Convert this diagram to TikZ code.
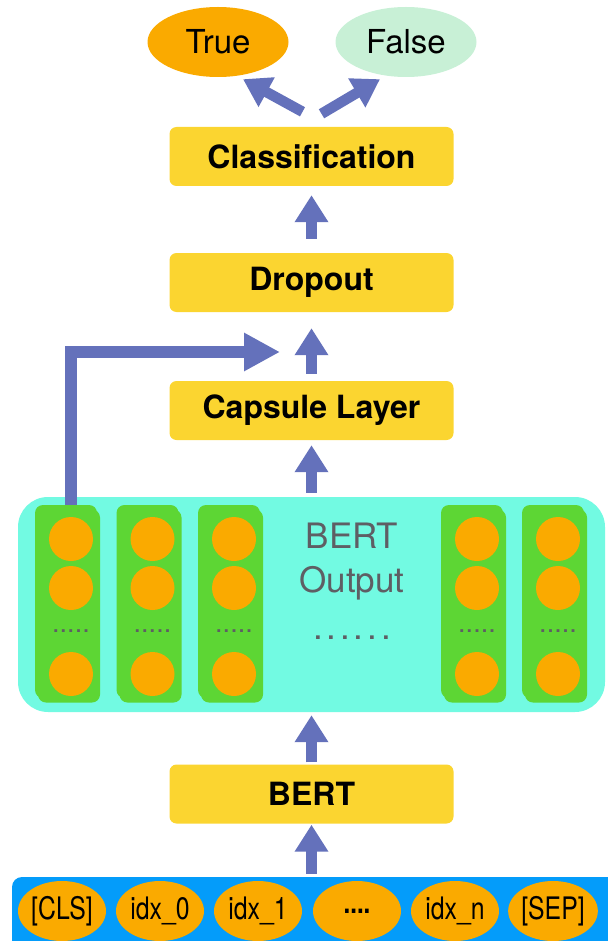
\documentclass[tikz,border=0pt]{standalone}
\usepackage{fontspec}
\setmainfont{TeX Gyre Heros}
\newfontfamily\narrowfont[FakeStretch=0.8]{TeX Gyre Heros}
\newfontfamily\spreadfont[LetterSpace=11]{TeX Gyre Heros}
\usetikzlibrary{arrows.meta,shapes.geometric}
\definecolor{layeryellow}{RGB}{251,213,48}
\definecolor{tokenorange}{RGB}{250,170,0}
\definecolor{falsegreen}{RGB}{200,240,214}
\definecolor{outcyan}{RGB}{114,250,226}
\definecolor{vecgreen}{RGB}{93,214,52}
\definecolor{inblue}{RGB}{4,156,250}
\definecolor{flowblue}{RGB}{100,113,187}
\definecolor{dotgray}{RGB}{94,94,100}

\begin{document}
\begin{tikzpicture}[x=1pt,y=-1pt,
		layer/.style={fill=layeryellow, rounded corners=7pt, minimum width=284pt, minimum height=59pt, inner sep=0pt, font=\fontsize{32}{36}\selectfont\bfseries},
		outcome/.style={ellipse, minimum width=141pt, minimum height=70pt, inner sep=0pt, font=\fontsize{33}{36}\selectfont},
		token/.style={ellipse, fill=tokenorange, minimum width=88pt, minimum height=60pt, inner sep=0pt, font=\fontsize{31}{32}\narrowfont},
		vector/.style={fill=vecgreen, rounded corners=8pt, minimum width=62pt, minimum height=193pt, inner sep=0pt},
		unit/.style={circle, fill=tokenorange, minimum size=44pt, inner sep=0pt},
		graytext/.style={text=dotgray, inner sep=0pt, anchor=base},
		flow/.style={draw=flowblue, line width=10.5pt, -{Triangle[width=32pt,length=27pt]}},
		skipflow/.style={draw=flowblue, line width=11.5pt, -{Triangle[width=36pt,length=36pt]}}]
		\useasboundingbox (0,0) rectangle (607,941);
		
		\node[outcome, fill=tokenorange] (true) at (218,42) {True};
		\node[outcome, fill=falsegreen] (false) at (406,42) {False};
		\node[layer] (class) at (311.5,156.5) {Classification};
		\node[layer] (dropout) at (311.5,282.5) {Dropout};
		\node[layer] (capsule) at (311.5,410.5) {Capsule Layer};
		\node[fill=outcyan, rounded corners=30pt, minimum width=587pt, minimum height=215pt, inner sep=0pt] (output) at (311.5,604.5) {};
		\node[layer] (bert) at (311.5,794) {BERT};
		\node[fill=inblue, rounded corners=10pt, minimum width=615pt, minimum height=80pt, inner sep=0pt] (inputs) at (319.5,917) {};
		
		\foreach \n/\x in {1/71,2/152.5,3/234,4/477,5/558} {
			\node[vector] at (\x-2,606) {};
			\node[vector] (col\n) at (\x-5,601.5) {};
			\node[unit] (u\n-1) at (\x,539) {};
			\node[unit] (u\n-2) at (\x,588) {};
			\node[graytext, font=\fontsize{27}{28}\selectfont] (dots\n) at (\x,632.5) {.....};
			\node[unit] (u\n-3) at (\x,674) {};
		}
		\node[graytext, font=\fontsize{35}{40}\selectfont] (title1) at (352,548) {BERT};
		\node[graytext, font=\fontsize{35}{40}\selectfont] (title2) at (352,592) {Output};
		\node[graytext, font=\fontsize{35}{40}\spreadfont] (more) at (352,639) {......};
		
		\node[token] (cls) at (62,911) {[CLS]};
		\node[token] (idx0) at (160,911) {idx\_0};
		\node[token] (idx1) at (258,911) {idx\_1};
		\node[token, font=\fontsize{30}{32}\narrowfont\bfseries] (gap) at (357,911) {....};
		\node[token] (idxn) at (455,911) {idx\_n};
		\node[token] (sep) at (553,911) {[SEP]};
		
		\coordinate (merge) at (280,352);
		
		\path (bert |- inputs.north) edge[flow, shorten <=3pt, shorten >=1pt] (bert);
		\path (bert) edge[flow, shorten <=2pt, shorten >=3pt] (output);
		\path (output) edge[flow, shorten <=4pt, shorten >=5pt] (capsule);
		\path (capsule) edge[flow, shorten <=7pt, shorten >=16pt] (dropout);
		\path (dropout) edge[flow, shorten <=14pt, shorten >=9pt] (class);
		\path ([xshift=-9pt,yshift=15pt]class.north) edge[flow] ([xshift=25pt,yshift=-2pt]true.south);
		\path ([xshift=10pt,yshift=13pt]class.north) edge[flow] ([xshift=-26pt,yshift=-2pt]false.south);
		\draw[skipflow] (u1-1 |- col1.north) |- (merge);
\end{tikzpicture}
\end{document}
